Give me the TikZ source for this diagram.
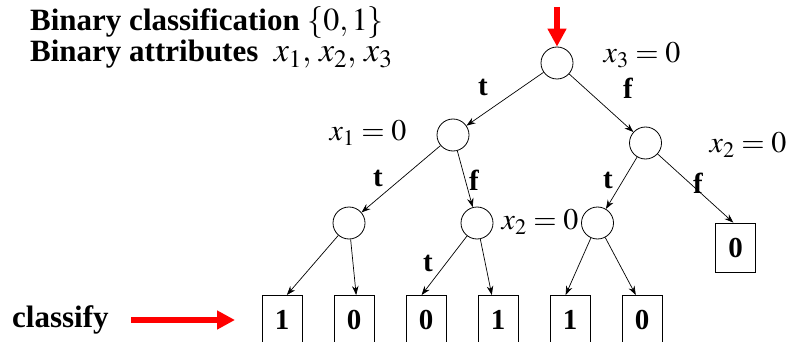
\documentclass[tikz,border=0pt]{standalone}
\usepackage{mathptmx}
\usepackage{fontspec}
\setmainfont{Liberation Serif}
\usetikzlibrary{arrows.meta,positioning}
\definecolor{signal}{HTML}{FF0000}
\definecolor{ink}{HTML}{000000}

\tikzset{
  test/.style={draw=ink,circle,minimum size=32pt,inner sep=0pt,line width=.8pt},
  leaf/.style={draw=ink,rectangle,minimum width=40pt,minimum height=49pt,inner sep=0pt,
    line width=.8pt,font=\fontsize{29}{29}\selectfont\bfseries},
  branch/.style={ink,line width=.7pt,-{Stealth[length=9pt,width=6.5pt]}},
  lbl/.style={font=\fontsize{29}{29}\selectfont\bfseries},
  cond/.style={font=\fontsize{30}{30}\selectfont},
  title/.style={font=\fontsize{31}{31}\selectfont\bfseries,inner sep=0pt},
  bigarrow/.style={signal,line width=6.7pt,-{Triangle[length=18pt,width=18pt]}},
}

\begin{document}
\begin{tikzpicture}[x=1pt,y=-1pt]
  \useasboundingbox (0,0) rectangle (792,342);
  \clip (0,0) rectangle (792,342);
  % heading
  \node[title,anchor=base west] (head1) at (30,31)
    {Binary classification {\fontsize{32}{32}\selectfont$\{0{,}\,1\}$}};
  \node[title,anchor=base west] (head2) at (30,62)
    {Binary attributes\ \ {\fontsize{34}{34}\selectfont$x_1,\,x_2,\,x_3$}};
  % tests
  \node[test] (root) at (557,63) {};
  \node[test] (t1) at (453,135) {};
  \node[test] (t2) at (645.5,143) {};
  \node[test] (t11) at (349,223) {};
  \node[test] (t12) at (477,223) {};
  \node[test] (t21) at (597.5,223) {};
  \node[cond] (c3) at (642,55) {$x_3=0$};
  \node[cond] (c1) at (368,133) {$x_1=0$};
  \node[cond] (c2) at (748,145) {$x_2=0$};
  \node[cond] (c2b) at (540,222) {$x_2=0$};
  % leaves
  \node[leaf] (leafg) at (735.5,247.5) {0};
  \foreach \n/\x/\v in {a/282/1,b/354/0,c/426/0,d/498/1,e/570/1,f/642/0}
    \node[leaf,anchor=north] (leaf\n) at (\x,295) {\v};
  % branches
  \draw[branch] (root) -- (t1);
  \draw[branch] (root) -- (t2);
  \draw[branch] (t1) -- (t11);
  \draw[branch] (t1) -- (t12);
  \draw[branch] (t2) -- (t21);
  \draw[branch] (t2) -- (leafg.95);
  \draw[branch] (t11) -- (leafa.79);
  \draw[branch] (t11) -- (leafb.85);
  \draw[branch] (t12) -- (leafc.100);
  \draw[branch] (t12) -- (leafd.104);
  \draw[branch] (t21) -- (leafe.100);
  \draw[branch] (t21) -- (leaff.104);
  % t / f labels
  \foreach \p/\s [count=\i] in {{(483,87)}/t,{(628,88)}/f,{(378,178)}/t,{(474,180)}/f,
      {(608,180)}/t,{(698,183)}/f,{(428,263)}/t}
    \node[lbl] (mark\i) at \p {\s};
  % classify
  \node[title,anchor=base west] (classify) at (12,327) {classify};
  \coordinate (tail) at (131,320);
  \coordinate (aim) at (235,320);
  \draw[bigarrow] (tail) -- (aim);
  \coordinate (drop) at (557,7);
  \draw[bigarrow] (drop) -- (root.north);
\end{tikzpicture}
\end{document}
